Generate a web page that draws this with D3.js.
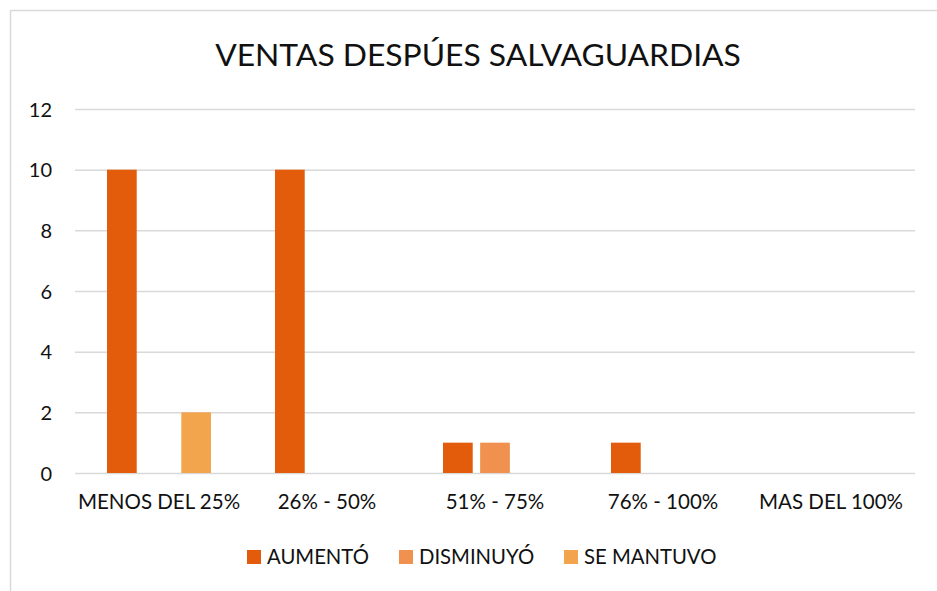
<!DOCTYPE html>
<html>
<head>
<meta charset="utf-8">
<script src="https://cdn.jsdelivr.net/npm/d3@7.9.0/dist/d3.min.js"></script>
<style>
  html, body { margin: 0; padding: 0; background: #fff; }
  svg { display: block; font-family: Lato, "Open Sans", sans-serif; }
  .axis path, .axis line { display: none; }
  .axis text { fill: #111; }
  .grid line { stroke: #d9d9d9; stroke-width: 1.5; }
  .grid path { display: none; }
</style>
</head>
<body>
<div id="chart"></div>
<script>
const title = 'VENTAS DESPÚES SALVAGUARDIAS';
const categories = ['MENOS DEL 25%', '26% - 50%', '51% - 75%', '76% - 100%', 'MAS DEL 100%'];
const seriesNames = ['AUMENTÓ', 'DISMINUYÓ', 'SE MANTUVO'];
const aumento = [10, 10, 1, 1, 0];
const disminuyo = [0, 0, 1, 0, 0];
const seMantuvo = [2, 0, 0, 0, 0];
const seriesColors = ['#e25c0b', '#f0914f', '#f3a54d'];
const yTicks = [0, 2, 4, 6, 8, 10, 12];

const seriesValues = [aumento, disminuyo, seMantuvo];
const rows = categories.map((cat, i) => ({
  cat,
  values: seriesNames.map((name, s) => ({ name, s, value: seriesValues[s][i] })),
}));

const width = 937;
const height = 591;
const plot = { left: 75, right: 915, top: 109, bottom: 473 };

const svg = d3.select('#chart')
  .append('svg')
  .attr('width', width)
  .attr('height', height);

// chart frame
svg.append('rect')
  .attr('x', 10.5)
  .attr('y', 10.5)
  .attr('width', width)
  .attr('height', height)
  .attr('fill', 'none')
  .attr('stroke', '#d9d9d9')
  .attr('stroke-width', 1.5);

svg.append('text')
  .attr('x', 478)
  .attr('y', 66)
  .attr('text-anchor', 'middle')
  .attr('font-size', 31.8)
  .attr('fill', '#111')
  .text(title);

const x0 = d3.scaleBand()
  .domain(categories)
  .range([plot.left, plot.right]);

const x1 = d3.scaleBand()
  .domain(seriesNames)
  .range([32, x0.bandwidth() - 32])
  .paddingInner(0.2);

const y = d3.scaleLinear()
  .domain([0, 12])
  .range([plot.bottom, plot.top]);

svg.append('g')
  .attr('class', 'grid')
  .attr('transform', `translate(${plot.left},0)`)
  .call(d3.axisLeft(y).tickValues(yTicks).tickFormat('').tickSize(-(plot.right - plot.left)));

const groups = svg.append('g')
  .selectAll('g')
  .data(rows)
  .join('g')
  .attr('transform', (d) => `translate(${x0(d.cat)},0)`);

groups.selectAll('rect')
  .data((d) => d.values.filter((v) => v.value > 0))
  .join('rect')
  .attr('x', (d) => x1(d.name))
  .attr('y', (d) => y(d.value))
  .attr('width', x1.bandwidth())
  .attr('height', (d) => y(0) - y(d.value))
  .attr('fill', (d) => seriesColors[d.s]);

svg.append('g')
  .attr('class', 'axis')
  .attr('transform', `translate(${plot.left - 23},0)`)
  .call(d3.axisLeft(y).tickValues(yTicks).tickSize(0).tickPadding(0))
  .call((g) => g.selectAll('text').attr('font-size', 20).attr('font-family', 'Lato, sans-serif').attr('dy', '0.35em'));

svg.append('g')
  .attr('class', 'axis')
  .attr('transform', `translate(0,${plot.bottom + 21})`)
  .call(d3.axisBottom(x0).tickSize(0).tickPadding(0))
  .call((g) => g.selectAll('text').attr('font-size', 20.5).attr('font-family', 'Lato, sans-serif').attr('dy', '0.71em'));

const legend = svg.append('g').attr('transform', 'translate(0,557)');
const legendX = [247, 399, 564];
const items = legend.selectAll('g')
  .data(seriesNames)
  .join('g')
  .attr('transform', (d, i) => `translate(${legendX[i]},0)`);

items.append('rect')
  .attr('x', 0)
  .attr('y', -7)
  .attr('width', 14)
  .attr('height', 14)
  .attr('fill', (d, i) => seriesColors[i]);

items.append('text')
  .attr('x', 20)
  .attr('y', 0)
  .attr('dy', '0.35em')
  .attr('font-size', 20.3)
  .attr('fill', '#111')
  .text((d) => d);
</script>
</body>
</html>
